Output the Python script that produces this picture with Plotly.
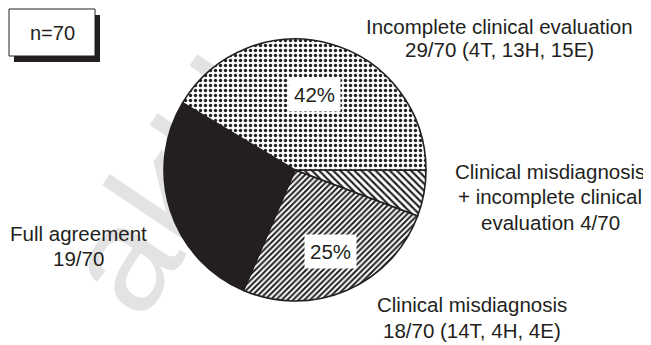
import plotly.graph_objects as go

# ---------------- data ----------------
categories = [
    "Incomplete clinical evaluation",
    "Full agreement",
    "Clinical misdiagnosis",
    "Clinical misdiagnosis + incomplete clinical evaluation",
]
counts = [29, 19, 18, 4]
total = 70
breakdowns = ["(4T, 13H, 15E)", "", "(14T, 4H, 4E)", ""]
pct_labels = ["42%", "", "25%", ""]
label_lines = [
    ["Incomplete clinical evaluation", "29/70 (4T, 13H, 15E)"],
    ["Full agreement", "19/70"],
    ["Clinical misdiagnosis", "18/70 (14T, 4H, 4E)"],
    ["Clinical misdiagnosis", "+ incomplete clinical", "evaluation 4/70"],
]
n_label = "n=70"
watermark = "akU"

# ---------------- styling ----------------
W, H = 651, 345
OFF = 8  # page body margin offset of the rendered figure
INK = "#231f20"
FONT = "Liberation Sans, Arial, Helvetica, sans-serif"


def px(x):
    return (x - OFF) / W


def py(y):
    return 1 - (y - OFF) / H


cx, cy, r = 295, 170, 131

fill_colors = ["white", INK, "white", "white"]
pat_shapes = [".", "", "/", "\\"]
pat_sizes = [5, 8, 4, 5]
pat_solid = [0.36, 0.0, 0.5, 0.42]

fig = go.Figure()
# slices drawn clockwise from 3 o'clock: reverse order of the lists
fig.add_trace(go.Pie(
    labels=categories[::-1],
    values=counts[::-1],
    sort=False,
    direction="clockwise",
    rotation=90,
    textinfo="none",
    hoverinfo="label+value",
    showlegend=False,
    domain=dict(x=[px(cx - r), px(cx + r)], y=[py(cy + r), py(cy - r)]),
    marker=dict(
        colors=fill_colors[::-1],
        line=dict(color=INK, width=1.6),
        pattern=dict(
            shape=pat_shapes[::-1],
            fgcolor=INK,
            bgcolor=fill_colors[::-1],
            size=pat_sizes[::-1],
            solidity=pat_solid[::-1],
        ),
    ),
))

annotations = []
# outer category labels (one annotation per line)
label_x = [500, 78, 472, 550]
label_y = [[26, 50], [234, 258], [304, 330], [171, 197, 222]]
for lines, x, ys in zip(label_lines, label_x, label_y):
    for line, y in zip(lines, ys):
        annotations.append(dict(
            x=px(x), y=py(y), xref="paper", yref="paper",
            text=line, showarrow=False,
            font=dict(family=FONT, size=20.5, color=INK),
            xanchor="center", yanchor="middle",
        ))

# percent boxes
pct_pos = [(314, 94), None, (330, 251), None]
for t, p in zip(pct_labels, pct_pos):
    if t and p:
        annotations.append(dict(
            x=px(p[0]), y=py(p[1]), xref="paper", yref="paper",
            text=t, showarrow=False, bgcolor="white", borderpad=5,
            font=dict(family=FONT, size=20.5, color=INK),
            xanchor="center", yanchor="middle",
        ))

# n=70 text
annotations.append(dict(
    x=px(52), y=py(33), xref="paper", yref="paper",
    text=n_label, showarrow=False,
    font=dict(family=FONT, size=20, color=INK),
    xanchor="center", yanchor="middle",
))

shapes = [
    # watermark (below everything)
    dict(type="rect", xref="paper", yref="paper", layer="below",
         x0=px(20), x1=px(300), y0=py(316), y1=py(36),
         line=dict(width=0), fillcolor="rgba(0,0,0,0)",
         label=dict(text=watermark, textangle=-56, textposition="middle center",
                    font=dict(family=FONT, size=150, color="#e3e3e3"))),
    # n=70 box shadow
    dict(type="rect", xref="paper", yref="paper", layer="above",
         x0=px(14), x1=px(100), y0=py(62), y1=py(15),
         line=dict(width=0), fillcolor=INK),
    # n=70 box
    dict(type="rect", xref="paper", yref="paper", layer="above",
         x0=px(9), x1=px(95), y0=py(56), y1=py(9),
         line=dict(width=1, color=INK), fillcolor="white"),
]

fig.update_layout(
    width=W, height=H,
    margin=dict(l=0, r=0, t=0, b=0),
    paper_bgcolor="white", plot_bgcolor="white",
    annotations=annotations, shapes=shapes,
    font=dict(family=FONT, color=INK),
)

fig.write_html("out.html")
